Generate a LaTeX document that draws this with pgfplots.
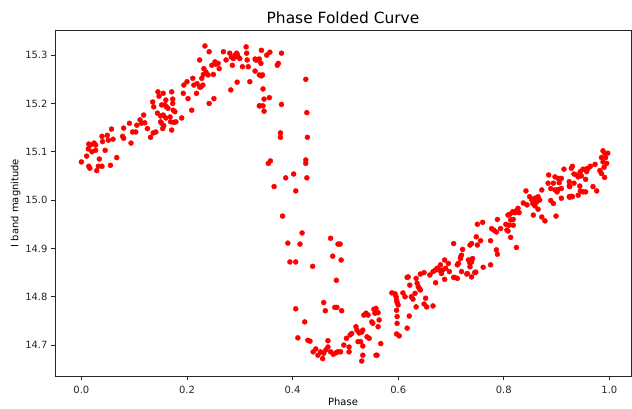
\documentclass[border=0pt]{standalone}
\usepackage{pgfplots}
\pgfplotsset{compat=1.18}
\usepackage{fontspec}
\setmainfont{DejaVu Sans}
\pgfplotstableread{
phase mag
0.000 15.079
0.010 15.091
0.013 15.106
0.014 15.116
0.017 15.114
0.020 15.100
0.024 15.118
0.027 15.103
0.027 15.114
0.029 15.061
0.014 15.070
0.016 15.066
0.034 15.085
0.039 15.070
0.032 15.070
0.045 15.103
0.040 15.121
0.039 15.132
0.049 15.134
0.051 15.124
0.057 15.147
0.060 15.126
0.055 15.072
0.067 15.088
0.078 15.132
0.080 15.149
0.080 15.128
0.091 15.159
0.094 15.118
0.097 15.141
0.103 15.141
0.105 15.155
0.111 15.166
0.114 15.159
0.118 15.176
0.120 15.160
0.125 15.148
0.131 15.130
0.136 15.139
0.141 15.141
0.135 15.203
0.137 15.193
0.145 15.224
0.147 15.215
0.144 15.180
0.150 15.174
0.150 15.162
0.154 15.148
0.158 15.197
0.160 15.207
0.164 15.190
0.168 15.172
0.169 15.162
0.171 15.224
0.173 15.200
0.177 15.183
0.179 15.162
0.171 15.145
0.155 15.176
0.160 15.170
0.152 15.159
0.156 15.154
0.175 15.161
0.190 15.170
0.155 15.221
0.173 15.209
0.152 15.197
0.161 15.193
0.174 15.186
0.234 15.319
0.242 15.307
0.224 15.290
0.232 15.272
0.231 15.260
0.236 15.265
0.240 15.259
0.250 15.260
0.247 15.279
0.253 15.286
0.259 15.283
0.261 15.272
0.269 15.307
0.274 15.290
0.281 15.304
0.284 15.296
0.288 15.293
0.291 15.300
0.294 15.304
0.297 15.296
0.300 15.293
0.305 15.276
0.312 15.317
0.313 15.304
0.314 15.290
0.316 15.276
0.319 15.245
0.330 15.290
0.295 15.244
0.283 15.228
0.251 15.210
0.242 15.200
0.218 15.221
0.219 15.241
0.211 15.252
0.200 15.245
0.194 15.238
0.193 15.221
0.202 15.210
0.209 15.186
0.213 15.238
0.226 15.234
0.228 15.252
0.337 15.259
0.337 15.195
0.295 15.302
0.255 15.281
0.286 15.279
0.224 15.234
0.230 15.238
0.341 15.310
0.351 15.300
0.357 15.306
0.379 15.304
0.329 15.292
0.333 15.290
0.337 15.292
0.340 15.283
0.371 15.279
0.373 15.283
0.329 15.267
0.341 15.257
0.343 15.259
0.425 15.250
0.344 15.230
0.346 15.209
0.356 15.212
0.338 15.195
0.344 15.195
0.346 15.184
0.379 15.198
0.427 15.181
0.377 15.139
0.377 15.130
0.428 15.130
0.354 15.076
0.358 15.081
0.425 15.083
0.425 15.076
0.427 15.046
0.406 15.019
0.402 15.054
0.387 15.046
0.365 15.028
0.381 14.967
0.472 14.921
0.476 14.884
0.486 14.909
0.490 14.909
0.492 14.876
0.483 14.834
0.459 14.788
0.462 14.771
0.480 14.778
0.484 14.778
0.493 14.771
0.391 14.911
0.406 14.872
0.414 14.909
0.418 14.932
0.395 14.872
0.406 14.775
0.410 14.715
0.423 14.748
0.433 14.708
0.439 14.686
0.444 14.692
0.448 14.679
0.429 14.710
0.438 14.863
0.453 14.686
0.457 14.672
0.459 14.683
0.463 14.690
0.467 14.709
0.467 14.696
0.472 14.686
0.477 14.681
0.482 14.684
0.486 14.686
0.491 14.686
0.497 14.700
0.502 14.714
0.509 14.721
0.512 14.724
0.507 14.696
0.507 14.686
0.520 14.738
0.522 14.731
0.526 14.725
0.531 14.727
0.533 14.731
0.524 14.707
0.529 14.707
0.533 14.698
0.533 14.679
0.531 14.667
0.535 14.762
0.539 14.766
0.543 14.762
0.541 14.717
0.545 14.714
0.550 14.748
0.552 14.745
0.554 14.774
0.558 14.776
0.556 14.766
0.562 14.767
0.564 14.752
0.562 14.738
0.567 14.703
0.558 14.679
0.560 14.679
0.588 14.808
0.594 14.806
0.596 14.800
0.597 14.793
0.598 14.788
0.600 14.783
0.597 14.772
0.598 14.759
0.598 14.745
0.597 14.723
0.602 14.719
0.609 14.808
0.613 14.800
0.617 14.840
0.619 14.841
0.622 14.824
0.625 14.800
0.621 14.760
0.617 14.735
0.628 14.795
0.632 14.807
0.634 14.838
0.636 14.828
0.638 14.821
0.640 14.817
0.642 14.814
0.634 14.779
0.649 14.785
0.652 14.797
0.654 14.779
0.642 14.847
0.649 14.850
0.660 14.845
0.666 14.852
0.670 14.855
0.674 14.859
0.678 14.855
0.682 14.848
0.680 14.866
0.671 14.829
0.666 14.781
0.688 14.876
0.695 14.869
0.690 14.859
0.688 14.836
0.697 14.852
0.705 14.910
0.707 14.840
0.712 14.838
0.712 14.866
0.714 14.869
0.718 14.882
0.722 14.898
0.720 14.886
0.730 14.847
0.733 14.876
0.736 14.907
0.739 14.841
0.741 14.879
0.745 14.850
0.748 14.924
0.750 14.907
0.750 14.950
0.739 14.910
0.756 14.916
0.775 14.916
0.786 14.897
0.788 14.888
0.813 14.923
0.824 14.902
0.808 14.936
0.718 14.879
0.739 14.877
0.736 14.869
0.684 14.855
0.705 14.840
0.720 14.852
0.731 14.848
0.747 14.851
0.761 14.861
0.775 14.866
0.885 15.052
0.897 15.048
0.903 15.045
0.909 15.045
0.884 15.035
0.894 15.035
0.905 15.036
0.924 15.038
0.933 15.035
0.925 15.028
0.938 15.052
0.889 15.024
0.897 15.021
0.903 15.022
0.901 15.017
0.909 15.004
0.925 15.006
0.928 15.008
0.941 15.010
0.889 14.999
0.894 14.993
0.899 14.967
0.872 15.021
0.865 15.007
0.868 15.000
0.862 14.996
0.859 15.004
0.853 15.001
0.849 15.007
0.842 15.019
0.855 14.993
0.859 14.988
0.865 14.981
0.856 14.969
0.872 14.965
0.878 14.957
0.837 14.994
0.844 14.990
0.827 14.983
0.824 14.978
0.821 14.974
0.817 14.976
0.812 14.971
0.808 14.969
0.829 14.974
0.818 14.960
0.813 14.959
0.804 14.950
0.810 14.948
0.818 14.948
0.788 14.960
0.760 14.954
0.777 14.941
0.781 14.938
0.786 14.934
0.794 14.941
0.806 14.938
0.739 14.872
0.736 14.862
0.988 15.102
0.997 15.097
0.991 15.097
0.985 15.088
0.993 15.088
0.988 15.079
0.995 15.076
0.973 15.074
0.964 15.070
0.960 15.066
0.955 15.064
0.950 15.064
0.945 15.059
0.914 15.064
0.930 15.070
0.928 15.066
0.933 15.054
0.941 15.048
0.947 15.050
0.957 15.059
0.982 15.061
0.985 15.055
0.990 15.068
0.991 15.047
0.955 15.043
0.969 15.028
0.976 15.019
0.924 15.029
0.944 15.029
0.945 15.019
0.950 15.017
0.955 15.017
0.924 15.007
0.930 15.007
0.909 15.024
}\curve
\begin{document}
\begin{tikzpicture}
\useasboundingbox (-55bp,-33bp) rectangle (577bp,376bp);
\begin{axis}[
  scale only axis,
  width=576bp, height=346bp,
  xmin=-0.05, xmax=1.041,
  ymin=14.636, ymax=15.352,
  xtick={0,0.2,0.4,0.6,0.8,1.0},
  ytick={14.7,14.8,14.9,15.0,15.1,15.2,15.3},
  /pgf/number format/assume math mode=true,
  tick label style={font=\fontsize{10}{12}\selectfont, text=black!85},
  xticklabel style={yshift=-3bp, /pgf/number format/.cd, fixed, fixed zerofill, precision=1},
  yticklabel style={/pgf/number format/.cd, fixed, fixed zerofill, precision=1},
  tick align=outside,
  major tick length=4bp,
  xtick pos=bottom, ytick pos=left,
  axis line style={black!85, line width=0.9bp},
  every tick/.style={black!85, line width=0.9bp},
  title={Phase Folded Curve},
  title style={font=\fontsize{15.5}{18}\selectfont, yshift=-3bp},
  xlabel={Phase},
  ylabel={I band magnitude},
  label style={font=\fontsize{10}{12}\selectfont},
  xlabel style={yshift=3bp},
  ylabel style={yshift=-2bp},
]
\addplot[only marks, mark=*, mark size=2.5bp, color=red, mark options={draw=red, fill=red}] table[x=phase, y=mag] {\curve};
\end{axis}
\end{tikzpicture}
\end{document}
